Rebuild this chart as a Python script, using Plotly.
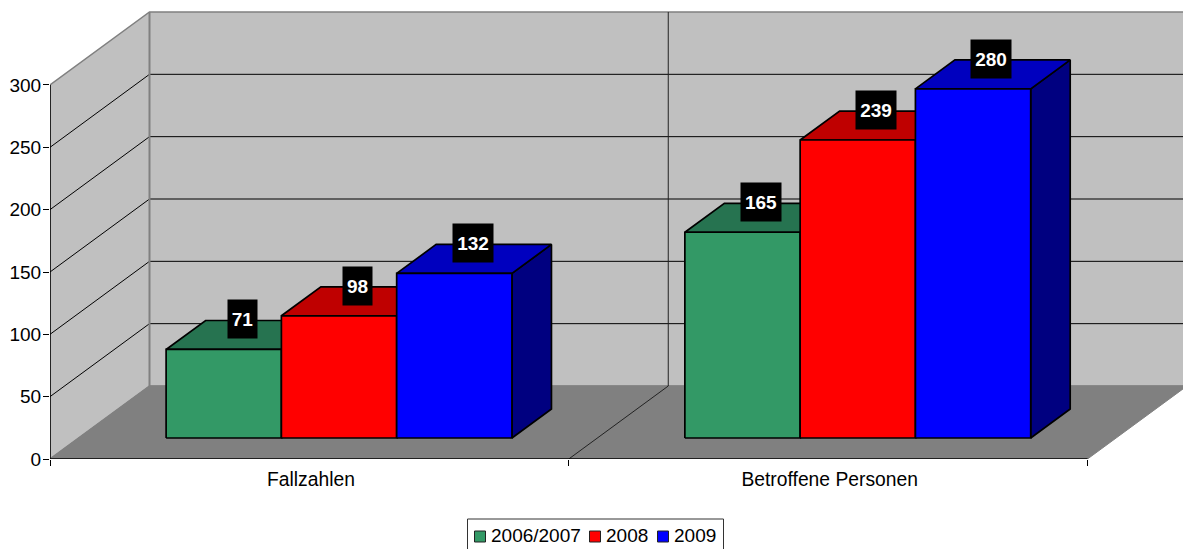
import plotly.graph_objects as go

categories = ["Fallzahlen", "Betroffene Personen"]
series_names = ["2006/2007", "2008", "2009"]
values_2006 = [71, 165]
values_2008 = [98, 239]
values_2009 = [132, 280]
y_ticks = [0, 50, 100, 150, 200, 250, 300]
front_colors = ["#339966", "#FF0000", "#0000FF"]
top_colors = ["#267350", "#BF0000", "#0000BF"]
side_colors = ["#1A4D33", "#800000", "#000080"]

all_values = [values_2006, values_2008, values_2009]

# Oblique projection of the 3D scene onto the flat axes.
LEFT = 50
BASE = 459
WIDTH, HEIGHT = 1183, 549
PX_X = 518.75
PX_Y = 1.2467
DX = 99.5 / PX_X
DY = 73 / PX_Y
BAR_W = 1 / 4.5
GAP = 0.75 * BAR_W + 1 / PX_X
D0, D1 = 0.288, 0.685
X_MAX = (WIDTH - LEFT) / PX_X
Y_MAX = BASE / PX_Y
FONT = "Liberation Sans"
FS = 19


def P(c, v, d=0.0):
    return c + d * DX, v + d * DY


def paper_x(px):
    return (px - LEFT) / (WIDTH - LEFT)


def paper_y(py):
    return (BASE - py) / BASE


fig = go.Figure()


def poly(points, fill=None, line="black", width=1):
    xs = [p[0] for p in points]
    ys = [p[1] for p in points]
    kw = dict(fill="toself", fillcolor=fill) if fill else {}
    fig.add_trace(go.Scatter(x=xs, y=ys, mode="lines",
                             line=dict(color=line, width=width),
                             showlegend=False, hoverinfo="skip",
                             cliponaxis=False, **kw))


top = y_ticks[-1]
far = 2.0
# Walls and floor
poly([P(0, 0), P(0, top), P(0, top, 1), P(far, top, 1), P(far, 0, 1), P(0, 0, 1), P(0, 0)],
     fill="#C0C0C0", line="#808080", width=1.5)
poly([P(0, 0), P(0, 0, 1), P(far, 0, 1), P(far, 0), P(0, 0)], fill="#808080", line="#808080", width=1)
# Gridlines
for t in y_ticks[1:-1]:
    poly([P(0, t), P(0, t, 1), P(far, t, 1)], line="black", width=1)
poly([P(0, 0, 1), P(0, top, 1)], line="#808080", width=2)
poly([P(1, top, 1), P(1, 0, 1), P(1, 0)], line="#222222", width=1)
# Axis lines
poly([P(0, 0), P(0, top)], line="black", width=1.5)
poly([P(0, 0), P(far, 0)], line="black", width=1.5)

# Bars
annotations = []
for ci, cat in enumerate(categories):
    for si, vals in enumerate(all_values):
        v = vals[ci]
        x0 = ci + GAP + si * BAR_W
        x1 = x0 + BAR_W
        poly([P(x1, 0, D0), P(x1, 0, D1), P(x1, v, D1), P(x1, v, D0), P(x1, 0, D0)],
             fill=side_colors[si], width=1.7)
        poly([P(x0, v, D0), P(x0, v, D1), P(x1, v, D1), P(x1, v, D0), P(x0, v, D0)],
             fill=top_colors[si], width=1.7)
        poly([P(x0, 0, D0), P(x0, v, D0), P(x1, v, D0), P(x1, 0, D0), P(x0, 0, D0)],
             fill=front_colors[si], width=1.7)
        lx = P((x0 + x1) / 2, v, (D0 + D1) / 2 - 0.015)[0]
        ly = P(x0, v, D1)[1] + 0.8
        annotations.append(dict(x=lx, y=ly, text=str(v), showarrow=False,
                                bgcolor="black", borderpad=0,
                                width=29 if v < 100 else 40, height=38,
                                font=dict(family=FONT, size=FS,
                                          color="white", weight="bold")))

# Legend frame and keys (tighter than the built-in legend allows)
shapes = [dict(type="rect", xref="paper", yref="paper",
               x0=paper_x(467.5), x1=paper_x(723.5), y0=paper_y(519), y1=paper_y(560),
               line=dict(color="#333333", width=1), fillcolor="white")]
key_px = [480, 595, 663]
text_px = [489, 604, 672]
for name, col, kx, tx in zip(series_names, front_colors, key_px, text_px):
    shapes.append(dict(type="rect", xref="paper", yref="paper",
                       x0=paper_x(kx - 5.5), x1=paper_x(kx + 5.5),
                       y0=paper_y(531), y1=paper_y(542),
                       line=dict(color="#222222", width=1), fillcolor=col))
    annotations.append(dict(xref="paper", yref="paper", x=paper_x(tx), y=paper_y(535),
                            text=name, showarrow=False, xanchor="left", yanchor="middle",
                            font=dict(family=FONT, size=FS, color="black")))

fig.update_layout(
    width=WIDTH, height=HEIGHT,
    margin=dict(l=LEFT, r=0, t=0, b=HEIGHT - BASE, autoexpand=False),
    plot_bgcolor="white", paper_bgcolor="white",
    font=dict(family=FONT, size=FS, color="black"),
    annotations=annotations,
    shapes=shapes,
    hovermode=False,
    showlegend=False,
    xaxis=dict(range=[0, X_MAX], showgrid=False, zeroline=False, showline=False,
               tickmode="array", tickvals=[0.503, 1.503], ticktext=categories,
               ticks="", ticklabelstandoff=7, automargin=False,
               tickfont=dict(size=19.3),
               minor=dict(tickmode="array", tickvals=[0, 1, 2], ticks="outside",
                          ticklen=6, tickcolor="black", showgrid=False)),
    yaxis=dict(range=[0, Y_MAX], showgrid=False, zeroline=False, showline=False,
               tickmode="array", tickvals=y_ticks, ticks="outside", ticklen=6,
               tickcolor="black", tickwidth=1, automargin=False, ticklabelstandoff=-2),
)
fig.write_html("out.html", config={"displayModeBar": False},
               post_script="document.body.style.margin='0';")
